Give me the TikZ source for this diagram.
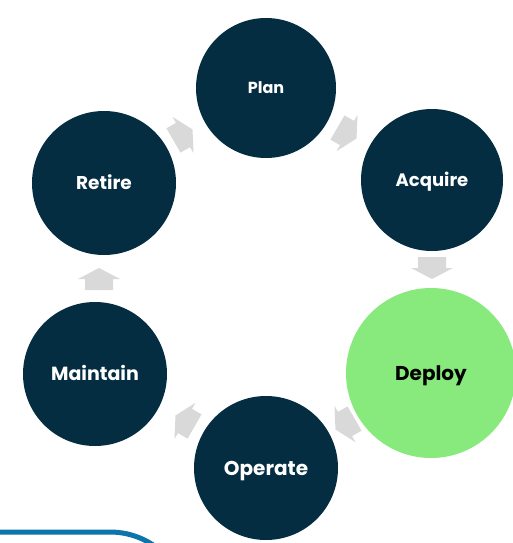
\documentclass[tikz,border=0pt]{standalone}
\usepackage{fontspec}
\setmainfont{Poppins}
\definecolor{navy}{RGB}{5,45,66}
\definecolor{deploygreen}{RGB}{136,234,124}
\definecolor{arrowgray}{RGB}{217,217,217}
\definecolor{lineblue}{RGB}{12,117,172}
\tikzset{
  stage/.style={circle, fill=navy, text=white, inner sep=0pt, minimum size=#1,
    text depth=0pt,
    font=\bfseries\fontsize{18}{20}\selectfont},
  current/.style={stage=#1, fill=deploygreen, text=black},
  fs/.style={font=\bfseries\fontsize{#1}{#1}\selectfont},
  blockarrowfill/.style={fill=arrowgray, draw=none},
  blueline/.style={draw=lineblue, line width=5pt}
}
\newcommand{\cyclearrow}[4]{%
  \coordinate (#4) at (#1,#2);
  \path[blockarrowfill, shift={(#4)}, rotate=#3]
    (-11,-14) -- (0,-14) -- (0,-21) -- (11,0) -- (0,21) -- (0,14) -- (-11,14) -- cycle;}
\begin{document}
\begin{tikzpicture}[x=1pt, y=-1pt]
\useasboundingbox (0,0) rectangle (513,543);
\clip (0,0) rectangle (513,543);
\fill[white] (0,0) rectangle (513,543);
% stages
\node[stage=140pt, fs=16, text height=11.5pt] (plan) at (266,88) {Plan};
\node[stage=142pt, fs=18, text height=13pt] (acquire) at (432,180) {Acquire};
\node[current=170pt, fs=20, text height=14.4pt] (deploy) at (431,373) {Deploy};
\node[stage=144pt, fs=20, text height=14.4pt] (operate) at (266,468) {Operate};
\node[stage=144pt, fs=19, text height=13.7pt] (maintain) at (95,374) {Maintain};
\node[stage=144pt, fs=18.5, text height=13.3pt] (retire) at (104,183) {Retire};
% arrows
\cyclearrow{183}{135}{30}{a1}
\cyclearrow{347}{133}{-30}{a2}
\cyclearrow{432}{268}{-90}{a3}
\cyclearrow{345}{424}{210}{a4}
\cyclearrow{185}{421}{150}{a5}
\cyclearrow{99}{279}{90}{a6}
% blue frame edge
\coordinate (b0) at (-5,532);
\coordinate (b1) at (110,532);
\draw[blueline] (b0) -- (b1) arc[start angle=-90, end angle=-40, radius=78];
\end{tikzpicture}
\end{document}
